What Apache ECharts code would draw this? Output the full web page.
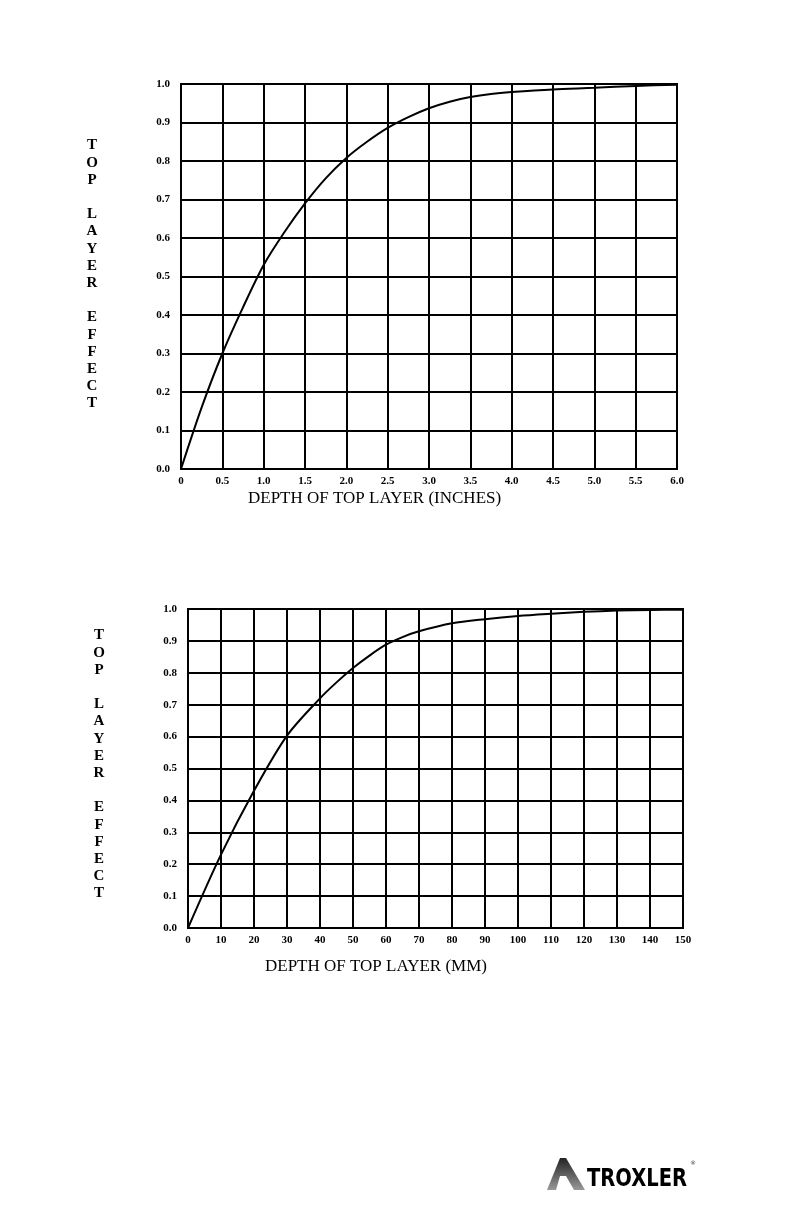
<!DOCTYPE html>
<html><head><meta charset="utf-8">
<script src="https://cdn.jsdelivr.net/npm/echarts@6/dist/echarts.min.js"></script>
<style>html,body{margin:0;padding:0;background:#fff;}#c{width:792px;height:1224px;}</style>
</head><body><div id="c"></div>
<script>
// Top chart: depth in inches vs top layer effect
const inchDepth  = [0, 0.25, 0.5, 0.75, 1.0, 1.25, 1.5, 1.75, 2.0, 2.25, 2.5, 2.75, 3.0, 3.25, 3.5, 3.75, 4.0, 4.5, 5.0, 5.5, 6.0];
const inchEffect = [0, 0.16, 0.30, 0.42, 0.53, 0.615, 0.69, 0.755, 0.808, 0.85, 0.886, 0.914, 0.937, 0.954, 0.966, 0.974, 0.979, 0.986, 0.99, 0.995, 0.998];
// Bottom chart: depth in mm vs top layer effect
const mmDepth  = [0, 10, 20, 30, 40, 45, 50, 55, 60, 65, 70, 80, 90, 100, 110, 120, 130, 140, 150];
const mmEffect = [0, 0.23, 0.43, 0.603, 0.72, 0.77, 0.815, 0.854, 0.888, 0.912, 0.930, 0.955, 0.968, 0.978, 0.985, 0.991, 0.995, 0.997, 0.998];
const inchTicks = ['0','0.5','1.0','1.5','2.0','2.5','3.0','3.5','4.0','4.5','5.0','5.5','6.0'];
const yTicks = ['0.0','0.1','0.2','0.3','0.4','0.5','0.6','0.7','0.8','0.9','1.0'];
const xTitleTop = 'DEPTH OF TOP LAYER (INCHES)';
const xTitleBottom = 'DEPTH OF TOP LAYER (MM)';
const yTitle = 'TOP LAYER EFFECT';

const chart = echarts.init(document.getElementById('c'), null, {renderer: 'canvas'});
const ser = (xs, ys) => xs.map((x, i) => [x, ys[i]]);
const lbl = {fontFamily: 'Liberation Serif', fontWeight: 'bold', fontSize: 11, color: '#000'};
const lineStyle = {color: '#000', width: 2};
const vertText = yTitle.split(' ').map(w => w.split('').join('\n')).join('\n\n');

function xAxis(gi, max, interval, fmt) {
  return {type: 'value', gridIndex: gi, min: 0, max: max, interval: interval,
    axisLine: {show: true, lineStyle: lineStyle}, axisTick: {show: false},
    splitLine: {show: true, lineStyle: lineStyle},
    axisLabel: Object.assign({margin: 7, formatter: fmt}, lbl)};
}
function yAxis(gi) {
  return {type: 'value', gridIndex: gi, min: 0, max: 1, interval: 0.1,
    axisLine: {show: true, lineStyle: lineStyle}, axisTick: {show: false},
    splitLine: {show: true, lineStyle: lineStyle},
    axisLabel: Object.assign({margin: 11, formatter: v => yTicks[Math.round(v * 10)]}, lbl)};
}

chart.setOption({
  animation: false,
  backgroundColor: '#fff',
  grid: [
    {left: 181, top: 84, width: 496, height: 385, show: true, borderColor: '#000', borderWidth: 2, backgroundColor: 'transparent'},
    {left: 188, top: 609, width: 495, height: 319, show: true, borderColor: '#000', borderWidth: 2, backgroundColor: 'transparent'}
  ],
  xAxis: [
    xAxis(0, 6, 0.5, v => inchTicks[Math.round(v * 2)]),
    xAxis(1, 150, 10, v => String(v))
  ],
  yAxis: [yAxis(0), yAxis(1)],
  series: [
    {type: 'line', xAxisIndex: 0, yAxisIndex: 0, data: ser(inchDepth, inchEffect), smooth: 0.3,
     showSymbol: false, lineStyle: {color: '#000', width: 2}},
    {type: 'line', xAxisIndex: 1, yAxisIndex: 1, data: ser(mmDepth, mmEffect), smooth: 0.3,
     showSymbol: false, lineStyle: {color: '#000', width: 2}}
  ],
  graphic: [
    {type: 'text', left: 248, top: 490, style: {text: xTitleTop, font: '17px "Liberation Serif"', fill: '#000'}},
    {type: 'text', left: 265, top: 958, style: {text: xTitleBottom, font: '17px "Liberation Serif"', fill: '#000'}},
    {type: 'text', x: 92, y: 137, style: {text: vertText, font: 'bold 15px "Liberation Serif"', fill: '#000', lineHeight: 17.2, align: 'center'}},
    {type: 'text', x: 99, y: 627, style: {text: vertText, font: 'bold 15px "Liberation Serif"', fill: '#000', lineHeight: 17.2, align: 'center'}},
    // logo
    {type: 'polygon', shape: {points: [[547, 1190], [560, 1158], [566, 1158], [585, 1190], [574, 1190], [566, 1176], [560, 1176], [556, 1190]]},
     style: {fill: new echarts.graphic.LinearGradient(0, 0, 0, 1, [{offset: 0, color: '#222'}, {offset: 1, color: '#999'}])}},
    {type: 'text', x: 587, y: 1167, scaleX: 0.78, style: {text: 'TROXLER', font: 'bold 25px "DejaVu Sans"', fill: new echarts.graphic.LinearGradient(0, 0, 0, 1, [{offset: 0, color: '#111'}, {offset: 1, color: '#888'}])}},
    {type: 'text', x: 690, y: 1160, style: {text: '®', font: '6px "DejaVu Sans"', fill: '#444'}}
  ]
});
</script></body></html>
